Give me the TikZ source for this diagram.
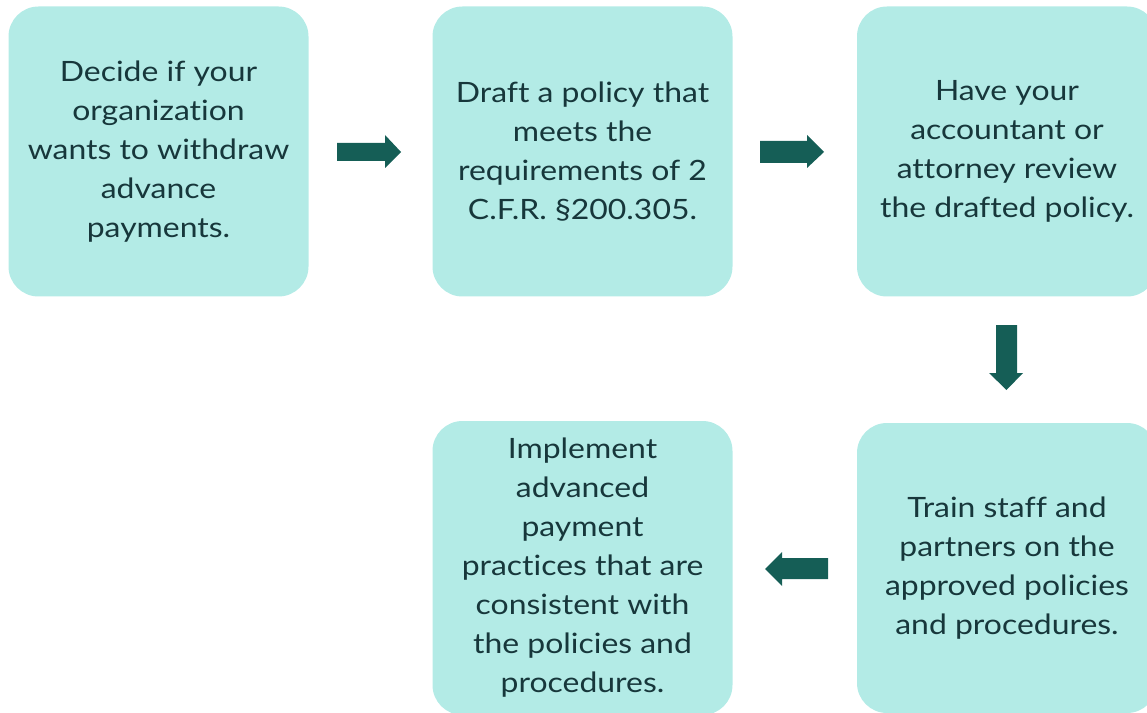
\documentclass[tikz,border=0pt]{standalone}
\usepackage{fontspec}
\setmainfont[Ligatures=NoCommon, FakeStretch=1.14]{Lato}
\definecolor{boxfill}{HTML}{B3EBE6}
\definecolor{arrowcol}{HTML}{155E56}
\definecolor{textcol}{HTML}{17373B}
\begin{document}
\begin{tikzpicture}[x=0.75pt,y=-0.75pt,
  box/.style={fill=boxfill, rounded corners=22.5pt, minimum width=225pt, minimum height=217.5pt,
    inner sep=0pt, align=center, text=textcol, font=\fontsize{21}{29.25}\selectfont},
  blockarrow/.style={fill=arrowcol}]
\useasboundingbox (0,0) rectangle (1147,713);
\clip (0,0) rectangle (1147,713);
\node[box] (b1) at (158.5,151.5) {Decide if your\\organization\\wants to withdraw\\advance\\payments.};
\node[box] (b2) at (582.5,151.5) {Draft a policy that\\meets the\\requirements of 2\\C.F.R. §200.305.};
\node[box] (b3) at (1007,151.5) {Have your\\accountant or\\attorney review\\the drafted policy.};
\node[box] (b5) at (1007,568) {Train staff and\\partners on the\\approved policies\\and procedures.};
\node[box, minimum height=220.5pt] (b4) at (582.5,568) {Implement\\advanced\\payment\\practices that are\\consistent with\\the policies and\\procedures.};
% right arrows
\fill[blockarrow] (337,143) -- (385,143) -- (385,135) -- (401,152) -- (385,168) -- (385,161) -- (337,161) -- cycle;
\fill[blockarrow] (760,141) -- (807,141) -- (807,135) -- (824,152) -- (807,168) -- (807,163) -- (760,163) -- cycle;
% down arrow
\fill[blockarrow] (996,325) -- (1017,325) -- (1017,373) -- (1023,373) -- (1006.5,390) -- (989,373) -- (996,373) -- cycle;
% left arrow
\fill[blockarrow] (828,558) -- (782,558) -- (782,552) -- (765,569) -- (782,586) -- (782,579) -- (828,579) -- cycle;
\end{tikzpicture}
\end{document}
